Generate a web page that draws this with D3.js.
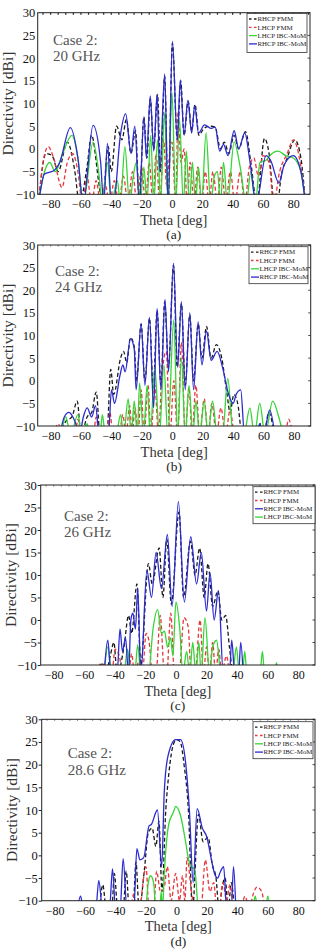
<!DOCTYPE html>
<html>
<head>
<meta charset="utf-8">
<script src="https://cdn.jsdelivr.net/npm/d3@7/dist/d3.min.js"></script>
<style>
  body { margin: 0; background: #fff; }
  svg { display: block; }
  svg text { font-family: "Liberation Serif", "DejaVu Serif", serif !important; }
</style>
</head>
<body>
<svg id="chart" width="320" height="949"></svg>
<script>
// tick labels
const xTicks = [-80, -60, -40, -20, 0, 20, 40, 60, 80];
const yTicks = [-10, -5, 0, 5, 10, 15, 20, 25, 30];
const panelTags = ["(a)", "(b)", "(c)", "(d)"];
const freqs = ["20 GHz", "24 GHz", "26 GHz", "28.6  GHz"];

// (a) 20 GHz  -- [theta, dB]; values below -10 get clipped by the frame
const a_rhcpFmm = [[-88,-12],[-83,-1],[-79,-1.5],[-75,-5],[-69,1.5],[-64,-5],[-61,-12],[-56,-4],[-53,3],[-48,-8],[-46,-12],[-42,0.5],[-40,-5],[-36.5,5],[-33,2],[-30,6.5],[-27,-1],[-24,4],[-21.5,-12],[-18.5,7],[-16.5,-2],[-14.3,11],[-12,0],[-9.5,12],[-7.5,-5],[-4.8,16],[-2.5,-12],[0.3,23.3],[3.5,2],[5.8,15],[8,3],[10.7,10.5],[13,4],[15.2,9.8],[17.8,3],[21,4.5],[25,5],[28.5,4.8],[32,0],[34.5,1.5],[37.5,-1],[41,3],[44,0],[48.5,3.8],[52,-3],[56,-12],[61,2.3],[64,-1],[67.5,-12],[69.5,-12],[72,-6],[76,-2],[81,2],[85,-2],[88,-12]];
const a_lhcpFmm = [[-88,-12],[-85,-3],[-81.5,0.5],[-78,-2],[-72.5,-8.5],[-69,-3],[-65.5,-1],[-62,-5],[-59,-12],[-56,-6],[-53,-12],[-50,-7],[-47,-12],[-44,-8],[-41,-12],[-38,-7],[-35,-12],[-32,-6],[-29,-12],[-26,-5],[-23,-12],[-20,-4],[-17.5,-12],[-15,-3],[-12.5,-12],[-10.5,-1],[-8,-12],[-5.5,2],[-3.5,-8],[-1.5,-1],[0,1.5],[2.5,-12],[4,8],[6,-3],[8,0],[10,-12],[12,-3],[14.5,-12],[17,-4],[19.5,-12],[22,-5],[24.5,-12],[27,-5],[30,-12],[32.5,-4],[35.5,-12],[38.5,-5],[41.5,-12],[45,-5],[48,-12],[51,-4],[54,-2],[57,-6],[60,-1.5],[64,-3],[67,-12],[71,-5],[76,-1],[80,2],[84,-2],[88,-12]];
const a_lhcpMom = [[-88,-12],[-84,-5],[-80.5,-3],[-77,-5],[-72,-1],[-66,3],[-62,-2],[-58.5,-12],[-52,1.5],[-48,-6],[-46,-12],[-42.5,-3],[-40,-12],[-36,-7],[-34,-12],[-31,0.5],[-28,-12],[-25.5,-6],[-23.5,-3],[-21,-12],[-18.5,-4],[-16.5,-12],[-14,3],[-12,-12],[-9.5,2],[-7.5,-12],[-5,8],[-2.5,-12],[0,12.5],[2.5,-12],[5,6.5],[7.5,-12],[9.5,-0.5],[11.5,-12],[13.5,-3],[15.5,-12],[17.5,-4],[19.5,-12],[22.5,3.5],[25.5,-12],[28,-6],[30,-5],[32,-12],[34,-3],[36.5,-12],[41,1.5],[45,-4],[49,-12],[52,-5],[55,-12],[58,-3],[62,-2.5],[66,-1],[70,-0.5],[75,-1.5],[80,-2],[85,-5],[88,-12]];
const a_rhcpMom = [[-88,-12],[-84,-5.5],[-78,-4.8],[-74,-3],[-67,4.7],[-62,-2],[-58.5,-12],[-52,5.2],[-47,-3],[-45,-12],[-42.5,1.2],[-40,-12],[-38.5,-12],[-34,3],[-30.5,7.7],[-27,-1],[-24.5,5],[-21.5,-12],[-18.5,7],[-16.8,-2],[-14.3,11.7],[-12,-0.5],[-9.8,12],[-8,-5],[-4.8,16.5],[-2.5,-12],[0.3,23.7],[3.5,2],[5.5,15.2],[8,3],[10.5,10.7],[13,3.5],[15,9.5],[17.5,3.5],[21.5,5.3],[26,4.5],[28.5,4.8],[31.5,-0.5],[34,1],[37,-1.5],[41,4],[44,0],[48,3.5],[51.5,-3],[55.5,-12],[62,-1.5],[65,-2.5],[70.5,-7.5],[74,-3.5],[80,-1.5],[85,-5],[88,-12]];

// (b) 24 GHz
const b_rhcpFmm = [[-74,-12],[-70,-9],[-66,-8],[-62.5,-4.5],[-60,-12],[-56,-8],[-53,-7],[-50,-2.5],[-47.5,-12],[-43,-12],[-40.5,2.5],[-38.5,-3],[-34,5],[-32,6.5],[-30,4],[-27.5,9.5],[-25,7.5],[-23.5,0],[-20.5,12.5],[-18,0],[-15,13.8],[-12.5,-2],[-10,15.5],[-7.5,-1],[-5,17.5],[-2.5,3],[0.8,25.5],[3.2,3],[6,17],[8.5,-1],[11.5,14.5],[14,0],[17,12.5],[19.5,5],[22.5,12],[25.5,5],[29,8],[32.5,5],[36,-3],[38,-7],[40.5,-3],[43,-5],[46,-12],[56,-12],[58,-9.5],[60,-12],[63.5,-7],[67,-12]];
const b_lhcpFmm = [[-78,-12],[-75,-9.5],[-72,-12],[-64,-12],[-62,-8.5],[-60,-12],[-52,-12],[-50,-8],[-48,-12],[-43,-12],[-41,-7],[-39,-12],[-35,-12],[-32.5,-7.5],[-30.5,-12],[-28,-5.5],[-26.5,-12],[-24.5,-6],[-22.5,-12],[-20.5,-2],[-18.5,-12],[-16,-1],[-14,-12],[-11.5,-1],[-9,-12],[-7,0.5],[-4,6.5],[-1.5,-12],[1,0],[3.5,-12],[6,8.5],[8.5,-12],[11,-1.5],[13,-12],[15.5,-1],[18,-12],[21,-4],[23.5,-12],[26,-5],[29,-12],[32,-6],[35,-12],[38,-6.5],[41,-12],[74,-12],[76.5,-8.5],[79,-12]];
const b_lhcpMom = [[-73,-12],[-70,-8],[-67,-12],[-62,-7.5],[-59.5,-12],[-56,-9.5],[-54,-12],[-47.5,-12],[-46,-7.5],[-44,-12],[-37,-12],[-34,-7.5],[-32,-12],[-29,-4],[-27,-12],[-25,-4.5],[-23,-12],[-21.5,-0.5],[-19,-12],[-16.5,-1],[-14.5,-12],[-11.5,3],[-8.5,-12],[-5.5,3.5],[-3,-12],[1,13.5],[3.5,-12],[6,5],[8.5,-12],[11,-1],[13.5,-12],[15.5,-4.5],[18,-12],[21,-4.5],[23.5,-12],[26.5,-4.5],[29.5,-12],[33,-12],[36.5,0.5],[40,-12],[47,-12],[51,-6],[54,-12],[57.5,-5],[61,-12],[66,-4.5],[70,-8],[73,-12]];
const b_rhcpMom = [[-74,-12],[-71,-8],[-68,-7],[-64,-9],[-61,-12],[-58.5,-8],[-56,-6],[-53,-8],[-50.5,-5.5],[-48,-12],[-42,-12],[-40,-2],[-38,-5],[-34.5,1],[-32.5,3.5],[-31,2],[-27.5,9.3],[-25,7],[-23.8,-2],[-20.5,12.7],[-18,-1],[-15,14],[-12.3,-6],[-10,16],[-7.5,-2],[-4.8,18],[-2.5,2],[0.8,26],[3.5,3],[6,17.5],[8.5,-2],[11.5,15],[14,-2],[17,13],[19.5,3.5],[22.5,11],[25.5,4.5],[29.5,6.5],[33,3],[37,-3],[40,-5],[42,-3],[45,-2],[47.5,-12],[55,-12],[57.5,-9.5],[60,-12],[64,-6.5],[67.5,-12]];

// (c) 26 GHz
const c_rhcpFmm = [[-51,-12],[-49,-9.5],[-46,-12],[-43,-8],[-40.6,-5],[-38.5,-12],[-34,-6],[-31,1],[-29,-3],[-25.5,8],[-23,-10],[-18,12.5],[-15.5,8],[-11,16],[-8.5,5],[-6,18],[-3,3.5],[2,24],[5,5],[9.5,17.5],[12.5,10],[15.5,16],[18.5,5],[21,12.5],[24,3],[27.5,6.5],[30,0],[32.5,1],[35,-6],[37,-12]];
const c_lhcpFmm = [[-50,-12],[-48,-9.5],[-46,-12],[-42,-12],[-39.8,-6.5],[-37,-8],[-35,-12],[-31,-12],[-29,-7.5],[-27,-12],[-24,-9],[-22,-12],[-19.5,-3],[-17.5,-5],[-15.5,-12],[-13,-12],[-10.3,1],[-7.5,-12],[-6,-12],[-3.4,1.5],[-1,-12],[2,-12],[5.3,0.5],[8,-1.5],[10,-12],[12.5,-12],[15.8,0],[18,-12],[20,-6],[22,-12],[24,-5],[26,-12],[28,-6.5],[30,-12],[33,-8],[35,-12]];
const c_rhcpMom = [[-47,-12],[-44.6,-4.5],[-42.5,-12],[-38.5,-12],[-36.6,-2],[-35,-7],[-33,-4],[-31,-12],[-29.5,0],[-28.2,1.5],[-26.5,-2],[-25,7],[-23,-12],[-19,11],[-16,5],[-13,15],[-9.5,7],[-5.6,19],[-2.5,3],[1.6,26.3],[5.5,4],[9.7,18.5],[13.5,8],[16.6,15],[20,2],[22.3,10.5],[25,0],[27.8,6.5],[31,-12],[35,-12],[36.5,-4.5],[38.5,-12],[41,-12],[42.4,-5],[44,-12]];
const c_lhcpMom = [[-47,-12],[-44.6,-6],[-42,-12],[-34,-12],[-31.7,-6.5],[-29.5,-12],[-27,-12],[-25,-5.5],[-23,-12],[-18,-12],[-15,-2],[-12,2.3],[-9.5,-3],[-7.5,-2.5],[-5.5,-6],[-3.5,-4],[-2,-8],[0,4],[2.5,-2],[4.5,-12],[7,-7],[9,-12],[11,-5],[13,-12],[15,-5],[16.5,-12],[19,0.5],[22,-12],[24,-6],[26.6,-4.5],[29.5,-12],[37,-12],[39.6,-6],[41.5,-12],[43.5,-12],[45,-7],[46.5,-12],[55,-12],[56.6,-7],[58,-12],[64.5,-12],[65.8,-9.5],[67,-12]];

// (d) 28.6 GHz
const d_rhcpFmm = [[-50.5,-12],[-48.4,-6.5],[-46,-12],[-42.5,-12],[-40.8,-4],[-38.5,-12],[-35,-12],[-33,-3.5],[-31,-12],[-28.5,-12],[-26.6,-1.5],[-24.5,-12],[-21,-3],[-18.5,5],[-16,6],[-13.5,2],[-11.5,7.5],[-9.5,-8],[-7,10],[-5,18],[-2,24.5],[0,25.5],[2.5,25],[5,20],[8,9],[10.5,-12],[14.5,9],[17.5,3],[20.8,4],[23.5,-2],[26,-5],[28,-12],[30,-7],[32,-5],[34,-12],[36,-6],[38,-12]];
const d_lhcpFmm = [[-30,-12],[-28,-8.5],[-26.5,-12],[-24,-12],[-22,-6],[-20,-2.5],[-18,-12],[-15,-12],[-13,-3.5],[-10.5,-8],[-8,-7],[-6,-2.5],[-3.5,-10],[-0.5,-4],[2,-10],[4,-4.5],[5.5,-10],[7,-0.5],[9.5,-7],[12,-12],[16,-12],[19,-1],[22,-8],[24.5,-6],[26.5,-12],[28,-12],[30.5,-6],[33,-10],[35,-6.5],[38,-12],[42,-12],[45,-9],[48,-12],[50,-9],[53,-7],[56,-8],[58,-12]];
const d_lhcpMom = [[-20,-12],[-18.5,-6],[-17,-4.5],[-15,-6],[-13.5,-12],[-11,-12],[-10,-8],[-9.2,-12],[-8,-4],[-5,7],[-2,9.5],[-0.5,10.8],[2.5,9],[6,3],[8,-1],[9.5,-2.5],[12,-3],[14.5,-12],[50,-12],[51.7,-9],[53.5,-12],[58.5,-12],[60,-9],[61.5,-12]];
const d_rhcpMom = [[-65,-12],[-63,-9],[-61,-12],[-53,-12],[-51,-5.5],[-48.5,-12],[-44,-12],[-42,-3],[-40,-12],[-37,-12],[-35,-0.7],[-32.5,-12],[-28,-12],[-26,1.5],[-24,-1],[-21.5,-0.5],[-18,6.5],[-16.5,6.8],[-12.5,10],[-9.7,-2.5],[-8,14],[-5.5,22],[-0.5,25.5],[2.7,25.5],[6,20.5],[8.5,10],[11,-6],[13.6,10.3],[17,6],[20,4],[23,-1],[25,-4],[27,-5],[29,-3.5],[31,-2.5],[33,-12],[36,-12],[37.5,-2.5],[39,-12]];

const styles = {
  rhcpFmm: { name: "RHCP FMM", color: "#1a1a1a", dash: "4,2.5" },
  lhcpFmm: { name: "LHCP FMM", color: "#e8373d", dash: "4,2.5" },
  lhcpMom: { name: "LHCP IBC-MoM", color: "#35d535", dash: null },
  rhcpMom: { name: "RHCP IBC-MoM", color: "#2b2bd0", dash: null }
};

const panels = [
  { l: 37.7, r: 310, t: 12.7, b: 194.3, series: { rhcpFmm: a_rhcpFmm, lhcpFmm: a_lhcpFmm, lhcpMom: a_lhcpMom, rhcpMom: a_rhcpMom },
    order: ["rhcpFmm", "lhcpFmm", "lhcpMom", "rhcpMom"], leg: [247, 13.5, 60, 39], cx: 53, cy: 44.5 },
  { l: 37.7, r: 310.7, t: 245, b: 426, series: { rhcpFmm: b_rhcpFmm, lhcpFmm: b_lhcpFmm, lhcpMom: b_lhcpMom, rhcpMom: b_rhcpMom },
    order: ["rhcpFmm", "lhcpFmm", "lhcpMom", "rhcpMom"], leg: [249, 246.7, 59, 37], cx: 55, cy: 275.7 },
  { l: 40.7, r: 315, t: 485, b: 665, series: { rhcpFmm: c_rhcpFmm, lhcpFmm: c_lhcpFmm, rhcpMom: c_rhcpMom, lhcpMom: c_lhcpMom },
    order: ["rhcpFmm", "lhcpFmm", "rhcpMom", "lhcpMom"], leg: [253, 486.7, 62, 37], cx: 64, cy: 520.7 },
  { l: 41.7, r: 315, t: 719.3, b: 900.7, series: { rhcpFmm: d_rhcpFmm, lhcpFmm: d_lhcpFmm, lhcpMom: d_lhcpMom, rhcpMom: d_rhcpMom },
    order: ["rhcpFmm", "lhcpFmm", "lhcpMom", "rhcpMom"], leg: [253, 721.7, 60, 37], cx: 67.7, cy: 758 }
];

const svg = d3.select("#chart");

panels.forEach((p, i) => {
  const x = d3.scaleLinear().domain([-88.5, 91]).range([p.l, p.r]);
  const y = d3.scaleLinear().domain([-10, 30]).range([p.b, p.t]);
  const g = svg.append("g");

  g.append("clipPath").attr("id", "clip" + i)
    .append("rect").attr("x", p.l).attr("y", p.t).attr("width", p.r - p.l).attr("height", p.b - p.t);

  const line = d3.line().x(d => x(d[0])).y(d => y(d[1])).curve(d3.curveMonotoneX);
  const plot = g.append("g").attr("clip-path", "url(#clip" + i + ")");
  // FMM dashed first, solid MoM curves on top (blue ends up dominant)
  ["rhcpFmm", "lhcpFmm", "lhcpMom", "rhcpMom"].forEach(k => {
    const s = styles[k];
    plot.append("path").datum(p.series[k])
      .attr("d", line)
      .attr("fill", "none")
      .attr("stroke", s.color)
      .attr("stroke-width", 1.3)
      .attr("stroke-dasharray", s.dash);
  });

  // frame
  g.append("rect").attr("x", p.l).attr("y", p.t).attr("width", p.r - p.l).attr("height", p.b - p.t)
    .attr("fill", "none").attr("stroke", "#222").attr("stroke-width", 1);

  // top / right inner ticks
  g.selectAll(".tt").data(d3.range(-85, 91, 5)).join("line")
    .attr("x1", d => x(d)).attr("x2", d => x(d))
    .attr("y1", p.t).attr("y2", p.t + (i === 0 ? 2 : 1.5))
    .attr("stroke", "#222").attr("stroke-width", i === 0 ? 1.2 : 0.6);
  g.selectAll(".rt").data(yTicks).join("line")
    .attr("x1", p.r).attr("x2", p.r - 2.5)
    .attr("y1", d => y(d)).attr("y2", d => y(d))
    .attr("stroke", "#222").attr("stroke-width", 0.8);

  // y axis
  const ya = g.append("g").attr("transform", `translate(${p.l},0)`)
    .call(d3.axisLeft(y).tickValues(yTicks).tickSize(i >= 2 ? 3 : 0).tickPadding(i >= 2 ? 1 : 2.5));
  ya.select(".domain").remove();
  ya.selectAll("line").attr("stroke", "#222");
  ya.selectAll("text").attr("font-size", 12.5).attr("fill", "#111");

  // x axis
  const xa = g.append("g").attr("transform", `translate(0,${p.b})`)
    .call(d3.axisBottom(x).tickValues(xTicks).tickSize(0).tickPadding(5.5).tickFormat(d3.format("d")));
  xa.select(".domain").remove();
  xa.selectAll("text").attr("font-size", 12).attr("fill", "#111");

  // axis titles
  g.append("text").attr("x", (p.l + p.r) / 2).attr("y", p.b + 30.5)
    .attr("text-anchor", "middle").attr("font-size", 14.5).attr("fill", "#333").text("Theta [deg]");
  g.append("text")
    .attr("transform", `translate(${p.l - 24.5},${(p.t + p.b) / 2}) rotate(-90)`)
    .attr("text-anchor", "middle").attr("font-size", 15.5).attr("fill", "#333").text("Directivity [dBi]");
  g.append("text").attr("x", (p.l + p.r) / 2).attr("y", p.b + 45)
    .attr("text-anchor", "middle").attr("font-size", 13.5).attr("fill", "#222").text(panelTags[i]);

  // case label
  g.append("text").attr("x", p.cx).attr("y", p.cy).attr("font-size", 15).attr("fill", "#555").text("Case 2:");
  g.append("text").attr("x", p.cx).attr("y", p.cy + 16.5).attr("font-size", 15).attr("fill", "#555").text(freqs[i]);

  // legend
  const [lx, ly, lw, lh] = p.leg;
  const lg = g.append("g");
  lg.append("rect").attr("x", lx).attr("y", ly).attr("width", lw).attr("height", lh)
    .attr("fill", "#fff").attr("stroke", "#333").attr("stroke-width", 0.8);
  p.order.forEach((k, j) => {
    const s = styles[k];
    const yy = ly + 5.5 + j * 8.3;
    lg.append("line").attr("x1", lx + 2).attr("x2", lx + 10).attr("y1", yy).attr("y2", yy)
      .attr("stroke", s.color).attr("stroke-width", 1.3).attr("stroke-dasharray", s.dash ? "2.5,2.5" : null);
    lg.append("text").attr("x", lx + 10.5).attr("y", yy + 2.2).attr("font-size", 6.9)
      .attr("fill", "#222").text(s.name);
  });
});
</script>
</body>
</html>
